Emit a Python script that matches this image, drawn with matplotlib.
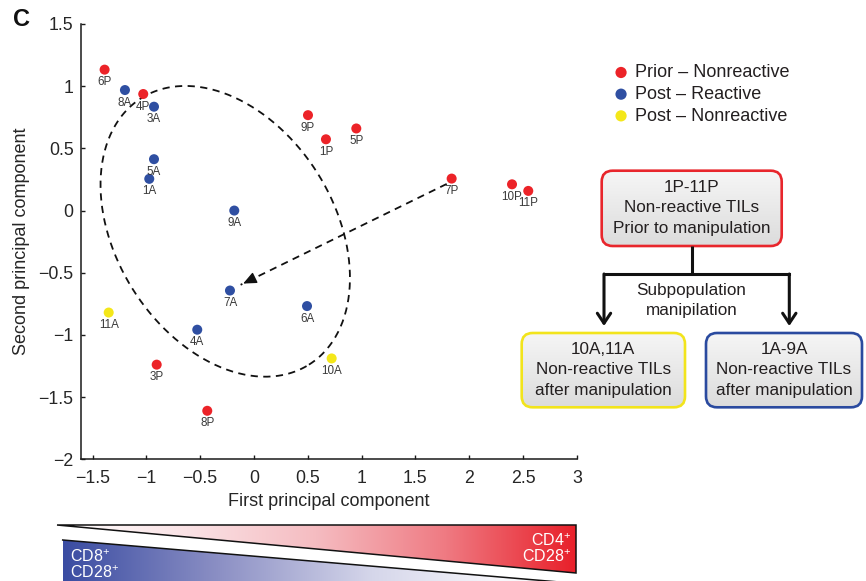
import numpy as np
import matplotlib
matplotlib.use('Agg')
import matplotlib.pyplot as plt
from matplotlib.patches import FancyBboxPatch, Polygon, FancyArrowPatch
from matplotlib.colors import LinearSegmentedColormap

plt.rcParams['font.family'] = ['Liberation Sans', 'DejaVu Sans']

# ---------------- data ----------------
prior_labels = ['1P', '3P', '4P', '5P', '6P', '7P', '8P', '9P', '10P', '11P']
prior_x = [0.669, -0.904, -1.029, 0.951, -1.388, 1.837, -0.434, 0.502, 2.398, 2.549]
prior_y = [0.573, -1.239, 0.937, 0.660, 1.133, 0.257, -1.610, 0.767, 0.211, 0.158]

react_labels = ['1A', '3A', '4A', '5A', '6A', '7A', '8A', '9A']
react_x = [-0.973, -0.929, -0.527, -0.929, 0.493, -0.223, -1.199, -0.183]
react_y = [0.255, 0.835, -0.958, 0.413, -0.768, -0.643, 0.969, 0.000]

nonreact_labels = ['10A', '11A']
nonreact_x = [0.722, -1.350]
nonreact_y = [-1.189, -0.820]

series_names = ['Prior \u2013 Nonreactive', 'Post \u2013 Reactive', 'Post \u2013 Nonreactive']
series_colors = ['#ec2328', '#2f4fa2', '#f4e719']

xticks = [-1.5, -1, -0.5, 0, 0.5, 1, 1.5, 2, 2.5, 3]
xtick_labels = ['\u22121.5', '\u22121', '\u22120.5', '0', '0.5', '1', '1.5', '2', '2.5', '3']
yticks = [-2, -1.5, -1, -0.5, 0, 0.5, 1, 1.5]
ytick_labels = ['\u22122', '\u22121.5', '\u22121', '\u22120.5', '0', '0.5', '1', '1.5']

# ellipse (data units): center, and two conjugate semi-axis vectors
ell_center = (-0.267, -0.167)
ell_a = (0.778, -1.072)
ell_b = (0.859, 0.466)
# arrow from 7P region to 7A region
arrow_start = (1.791, 0.214)
arrow_end = (-0.124, -0.597)

W, H = 866, 581
fig = plt.figure(figsize=(W / 100, H / 100), dpi=100)

# ---------------- main scatter axes ----------------
ax = fig.add_axes([80.5 / W, 1 - 459.3 / H, 496.3 / W, 435.3 / H])
ax.set_facecolor('none')
ax.set_xlim(-1.612, 3.0)
ax.set_ylim(-2.0, 1.5)
for s in ['top', 'right']:
    ax.spines[s].set_visible(False)
for s in ['left', 'bottom']:
    ax.spines[s].set_linewidth(1.1)
    ax.spines[s].set_color('#1a1a1a')
ax.set_xticks(xticks)
ax.set_xticklabels(xtick_labels)
ax.set_yticks(yticks)
ax.set_yticklabels(ytick_labels)
ax.tick_params(direction='in', length=3.2, width=1.0, color='#1a1a1a',
               labelsize=12.8, labelcolor='#262626')
ax.tick_params(axis='x', pad=8)
ax.tick_params(axis='y', pad=5)
ax.set_xlabel('First principal component', fontsize=13, color='#262626', labelpad=4)
ax.set_ylabel('Second principal component', fontsize=13, color='#262626', labelpad=6)

msize = 52
handles = []
for xs, ys, labs, col, name in [
        (prior_x, prior_y, prior_labels, series_colors[0], series_names[0]),
        (react_x, react_y, react_labels, series_colors[1], series_names[1]),
        (nonreact_x, nonreact_y, nonreact_labels, series_colors[2], series_names[2])]:
    h = ax.scatter(xs, ys, s=msize, c=col, edgecolors='none', zorder=3, label=name)
    handles.append(h)
    for x, y, t in zip(xs, ys, labs):
        ax.annotate(t, (x, y), xytext=(0, -12.5), textcoords='offset pixels',
                    ha='center', va='center', fontsize=8.4, color='#3a3a3a', zorder=4)

# dashed ellipse
t = np.linspace(0, 2 * np.pi, 400)
ex = ell_center[0] + ell_a[0] * np.cos(t) + ell_b[0] * np.sin(t)
ey = ell_center[1] + ell_a[1] * np.cos(t) + ell_b[1] * np.sin(t)
ax.plot(ex, ey, color='#111111', lw=1.3, dashes=(4, 3), zorder=2)

# dashed arrow
ax.plot([arrow_start[0], arrow_end[0]], [arrow_start[1], arrow_end[1]],
        color='#111111', lw=1.3, dashes=(4, 3), zorder=2)
dx = arrow_end[0] - arrow_start[0]
dy = arrow_end[1] - arrow_start[1]
ax.annotate('', xy=arrow_end, xytext=(arrow_end[0] - 0.05 * dx, arrow_end[1] - 0.05 * dy),
            arrowprops=dict(arrowstyle='-|>,head_length=0.8,head_width=0.35',
                            color='#111111', lw=1.0, mutation_scale=10), zorder=2)

# legend
leg = fig.legend(handles=handles, loc='upper left',
                 bbox_to_anchor=(607.5 / W, 1 - 57 / H), bbox_transform=fig.transFigure,
                 frameon=False, fontsize=13, handlelength=0.7, handletextpad=0.43,
                 labelspacing=0.26, borderpad=0.4, borderaxespad=0, markerscale=1.12)
for txt in leg.get_texts():
    txt.set_color('#231f20')

# panel letter
fig.text(22 / W, 1 - 20 / H, 'C', fontsize=17, fontweight='bold', ha='center', va='center',
         color='#111111')

# ---------------- overlay (pixel coordinates) ----------------
ov = fig.add_axes([0, 0, 1, 1])
ov.set_xlim(0, W)
ov.set_ylim(H, 0)
ov.axis('off')
ov.set_facecolor('none')

box_grad = np.linspace(0, 1, 64).reshape(-1, 1)
gray_cmap = LinearSegmentedColormap.from_list('g', ['#f6f6f6', '#dcdcdc'])
box_fs = 12.3


def box(x0, x1, y0, y1, edge, lines, ys):
    p = FancyBboxPatch((x0, y0), x1 - x0, y1 - y0,
                       boxstyle='round,pad=0,rounding_size=11',
                       facecolor='none', edgecolor=edge, lw=1.9, zorder=5)
    ov.add_patch(p)
    im = ov.imshow(box_grad, cmap=gray_cmap, extent=(x0, x1, y1, y0), origin='upper',
                   aspect='auto', zorder=4)
    im.set_clip_path(p)
    cx = (x0 + x1) / 2
    for ln, yy in zip(lines, ys):
        ov.text(cx, yy, ln, ha='center', va='center', fontsize=box_fs, color='#231f20', zorder=6)


box(601.7, 781.7, 170.7, 246, '#e8262c', ['1P-11P', 'Non-reactive TILs', 'Prior to manipulation'],
    [188, 208, 228])
box(521.7, 685, 333, 407.3, '#f2e41c', ['10A,11A', 'Non-reactive TILs', 'after manipulation'],
    [350, 370, 390])
box(706, 862, 333, 407.3, '#2a4a9f', ['1A-9A', 'Non-reactive TILs', 'after manipulation'],
    [350, 370, 390])

# connectors
ov.plot([691.7, 691.7], [246, 274], color='#111111', lw=2.2, zorder=5, solid_capstyle='butt')
ov.plot([604, 789.3], [274, 274], color='#111111', lw=2.2, zorder=5, solid_capstyle='projecting')
for xx in [604, 789.3]:
    ov.add_patch(FancyArrowPatch((xx, 274), (xx, 326),
                                 arrowstyle='->,head_length=0.45,head_width=0.3',
                                 mutation_scale=16, lw=2.2, color='#111111', zorder=5,
                                 shrinkA=0, shrinkB=0))
ov.text(691.5, 290, 'Subpopulation', ha='center', va='center', fontsize=box_fs, color='#231f20')
ov.text(691.5, 310, 'manipilation', ha='center', va='center', fontsize=box_fs, color='#231f20')

# gradient wedges at bottom
red_cmap = LinearSegmentedColormap.from_list(
    'r', [(0, '#ffffff'), (0.25, '#fae2e5'), (0.5, '#f5bcc1'), (0.75, '#ef7a82'), (1, '#e8202a')])
blue_cmap = LinearSegmentedColormap.from_list(
    'b', [(0, '#3a4ca2'), (0.3, '#8b8fc4'), (0.6, '#d5d6ea'), (0.85, '#f7f7fb'), (1, '#ffffff')])
hgrad = np.linspace(0, 1, 256).reshape(1, -1)

red_poly = Polygon([(57, 525), (576, 525), (576, 573)], closed=True,
                   facecolor='none', edgecolor='#111111', lw=1.1, zorder=6)
ov.add_patch(red_poly)
im_r = ov.imshow(hgrad, cmap=red_cmap, extent=(57, 576, 573, 525), origin='upper',
                 aspect='auto', zorder=5)
im_r.set_clip_path(red_poly)

blue_poly = Polygon([(62.7, 540), (577, 583.5), (577, 600), (62.7, 600)], closed=True,
                    facecolor='none', edgecolor='none', zorder=6)
ov.add_patch(blue_poly)
im_b = ov.imshow(hgrad, cmap=blue_cmap, extent=(62.7, 577, 600, 540), origin='upper',
                 aspect='auto', zorder=5)
im_b.set_clip_path(blue_poly)
ov.plot([62.7, 577], [540, 583.5], color='#111111', lw=1.1, zorder=6)

sup = '$^{\\mathregular{+}}$'
cd_fs = 11.5
ov.text(70, 556.7, 'CD8' + sup, ha='left', va='center', fontsize=cd_fs, color='white', zorder=7)
ov.text(70, 572.5, 'CD28' + sup, ha='left', va='center', fontsize=cd_fs, color='white', zorder=7)
ov.text(571, 540.7, 'CD4' + sup, ha='right', va='center', fontsize=cd_fs, color='white', zorder=7)
ov.text(571, 556.7, 'CD28' + sup, ha='right', va='center', fontsize=cd_fs, color='white', zorder=7)

ov.set_xlim(0, W)
ov.set_ylim(H, 0)

fig.savefig('out.png', dpi=100)
